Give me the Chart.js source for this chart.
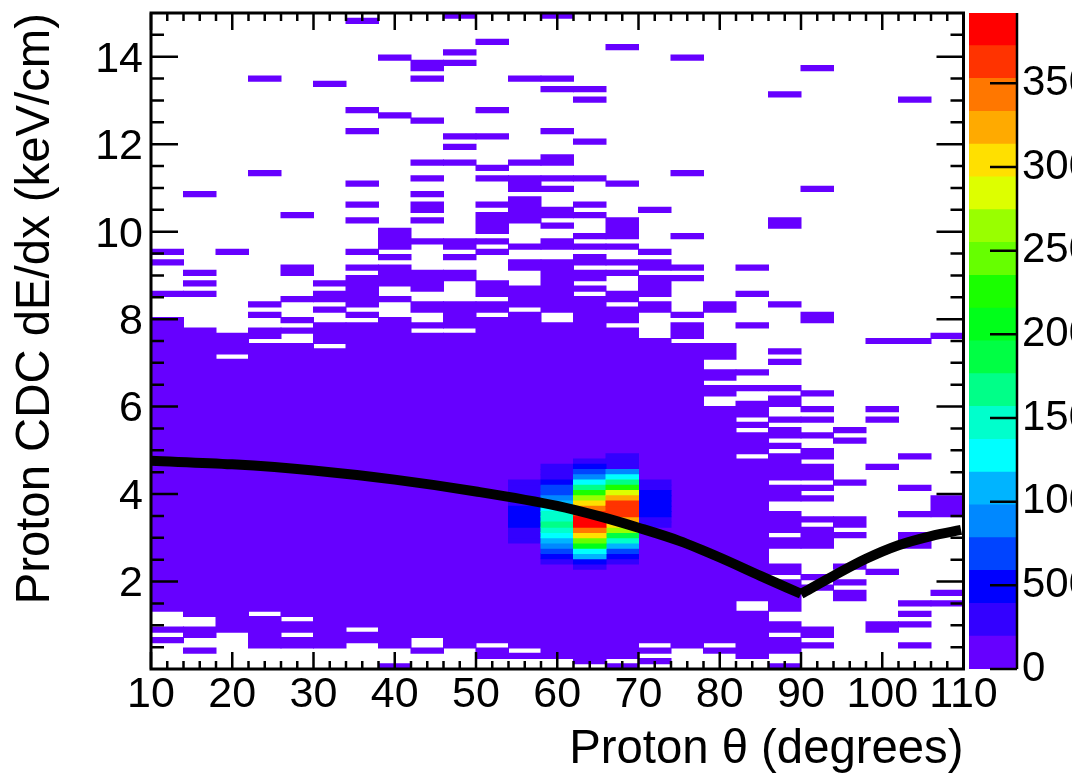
<!DOCTYPE html>
<html>
<head>
<meta charset="utf-8">
<title>Proton CDC dE/dx vs theta</title>
<script src="https://cdn.jsdelivr.net/npm/chart.js@4"></script>
<style>
html, body { margin: 0; padding: 0; background: #fff; overflow: hidden; }
#main { position: absolute; left: 0; top: 0; }
#palette { position: absolute; left: 955px; top: 0; }
</style>
</head>
<body>
<canvas id="main" width="1077" height="773"></canvas>
<canvas id="palette" width="117" height="773"></canvas>
<script>
// histogram binning: 25 theta bins (4 deg), 125 dE/dx bins (0.12 keV/cm)
const thetaBins = [12, 16, 20, 24, 28, 32, 36, 40, 44, 48, 52, 56, 60, 64, 68, 72, 76, 80, 84, 88, 92, 96, 100, 104, 108];
const dedxBinWidth = 0.12;

// occupied dE/dx bins of every theta column, as [first, last] runs
const occupiedBins = [
    [[5, 5], [7, 7], [11, 66], [71, 71], [77, 77], [79, 79]],
    [[3, 3], [6, 7], [10, 64], [71, 71], [73, 73], [75, 75], [90, 90]],
    [[7, 58], [60, 63], [79, 79]],
    [[4, 9], [11, 61], [63, 64], [67, 67], [69, 69], [94, 94], [112, 112]],
    [[4, 5], [7, 8], [10, 61], [64, 64], [66, 66], [70, 70], [75, 76], [86, 86]],
    [[4, 60], [62, 65], [68, 68], [70, 71], [73, 73], [111, 111]],
    [[5, 6], [8, 65], [67, 67], [69, 74], [76, 76], [79, 79], [85, 85], [88, 88], [92, 92], [102, 102], [106, 106], [123, 123]],
    [[0, 0], [4, 66], [70, 70], [73, 76], [78, 78], [80, 83], [105, 105], [116, 116]],
    [[3, 3], [6, 63], [65, 65], [68, 69], [72, 75], [81, 81], [85, 85], [87, 88], [90, 90], [93, 93], [96, 96], [104, 104], [112, 112], [114, 115]],
    [[4, 63], [65, 69], [74, 75], [78, 78], [80, 81], [96, 96], [99, 99], [101, 101], [115, 115], [117, 117], [124, 124]],
    [[2, 3], [5, 66], [68, 69], [71, 73], [79, 79], [81, 81], [83, 86], [88, 88], [93, 93], [95, 95], [101, 101], [106, 106], [119, 119]],
    [[2, 2], [4, 67], [69, 72], [76, 77], [80, 80], [85, 89], [91, 93], [96, 96], [112, 112]],
    [[2, 65], [68, 77], [80, 81], [84, 84], [86, 87], [91, 91], [93, 93], [96, 97], [102, 102], [110, 110], [112, 112], [124, 124]],
    [[1, 70], [72, 72], [74, 75], [77, 78], [80, 80], [82, 82], [86, 86], [88, 88], [93, 93], [100, 100], [108, 108], [110, 110]],
    [[0, 0], [2, 64], [66, 68], [70, 71], [75, 75], [77, 77], [80, 80], [82, 85], [92, 92], [118, 118]],
    [[1, 1], [3, 3], [5, 62], [68, 69], [71, 74], [76, 77], [79, 79], [87, 87]],
    [[4, 61], [63, 65], [67, 67], [74, 74], [76, 76], [82, 82], [94, 94], [116, 116]],
    [[3, 3], [5, 49], [52, 53], [55, 56], [59, 61], [68, 69]],
    [[2, 10], [13, 39], [41, 44], [46, 46], [48, 50], [53, 53], [56, 56], [65, 65], [71, 71], [76, 76]],
    [[0, 0], [3, 5], [7, 8], [11, 16], [18, 19], [23, 24], [26, 29], [32, 34], [36, 40], [42, 42], [44, 45], [47, 47], [50, 51], [53, 53], [58, 58], [60, 60], [69, 69], [84, 85], [109, 109]],
    [[4, 4], [6, 7], [15, 15], [17, 17], [23, 26], [28, 28], [32, 32], [34, 34], [36, 38], [40, 41], [44, 44], [47, 47], [49, 49], [52, 52], [66, 67], [91, 91], [114, 114]],
    [[13, 14], [16, 16], [19, 19], [25, 25], [27, 28], [35, 35], [43, 43], [45, 45]],
    [[7, 8], [18, 18], [38, 38], [47, 47], [49, 49], [62, 62]],
    [[4, 4], [8, 8], [10, 10], [12, 12], [23, 25], [29, 29], [34, 34], [40, 40], [62, 62], [108, 108]],
    [[12, 12], [14, 14], [29, 32], [63, 63]],
];

// counts of the peak region, column index -> first dE/dx bin and counts going up
const peakColumns = [11, 12, 13, 14, 15];
const peakFirstBin = [24, 20, 19, 20, 27];
const peakCounts = [
    [295, 300, 290, 500, 510, 520, 490, 300, 295, 290, 285, 280],
    [295, 490, 690, 885, 1080, 1275, 1475, 1670, 1475, 1475, 1275, 1080, 885, 690, 690, 490, 295, 295, 295],
    [295, 490, 1080, 1275, 2060, 2455, 3045, 3440, 3830, 3830, 3635, 3440, 3045, 2650, 2260, 1670, 1275, 885, 690, 490, 295],
    [295, 490, 690, 1080, 1475, 1865, 2650, 3045, 3240, 3635, 3635, 3635, 3240, 2850, 2260, 1670, 1275, 885, 295, 295, 295],
    [295, 300, 490, 500, 510, 505, 495, 290, 285],
];

// black curve, one branch on each side of the kink at 90 deg
const curveLeftTheta = [10, 20, 30, 40, 50, 60, 65, 70, 75, 80, 85, 90];
const curveLeftDedx = [4.76, 4.68, 4.54, 4.33, 4.06, 3.73, 3.5, 3.23, 2.93, 2.55, 2.13, 1.72];
const curveRightTheta = [90, 94, 98, 102, 106, 109.7];
const curveRightDedx = [1.72, 2.13, 2.52, 2.83, 3.04, 3.18];

// axes
const xMajorTicks = [10, 20, 30, 40, 50, 60, 70, 80, 90, 100, 110];
const xMinorTicks = [12, 14, 16, 18, 22, 24, 26, 28, 32, 34, 36, 38, 42, 44, 46, 48, 52, 54, 56, 58, 62, 64, 66, 68, 72, 74, 76, 78, 82, 84, 86, 88, 92, 94, 96, 98, 102, 104, 106, 108];
const yMajorTicks = [2, 4, 6, 8, 10, 12, 14];
const yMinorTicks = [0.5, 1, 1.5, 2.5, 3, 3.5, 4.5, 5, 5.5, 6.5, 7, 7.5, 8.5, 9, 9.5, 10.5, 11, 11.5, 12.5, 13, 13.5, 14.5];
const paletteTicks = [0, 500, 1000, 1500, 2000, 2500, 3000, 3500];

// palette, bottom to top
const paletteColors = ["#6600ff", "#3300ff", "#0000ff", "#0044ff", "#0088ff", "#00b4ff", "#00ffff", "#00ffcc", "#00ff88", "#00ff44",
    "#00ff1a", "#1aff00", "#66ff00", "#99ff00", "#ddff00", "#ffe000", "#ffaa00", "#ff7700", "#ff3300", "#ff0000"];
const paletteMax = 3920;

const fontFamily = "'Liberation Sans', Arial, sans-serif";
const levelStep = paletteMax / paletteColors.length;

function buildCellDatasets() {
    const cells = paletteColors.map(() => []);
    occupiedBins.forEach((runs, column) => {
        runs.forEach((run) => {
            cells[0].push({ x: thetaBins[column], y: [run[0] * dedxBinWidth, (run[1] + 1) * dedxBinWidth] });
        });
    });
    peakColumns.forEach((column, i) => {
        peakCounts[i].forEach((count, j) => {
            const bin = peakFirstBin[i] + j;
            cells[Math.floor(count / levelStep)].push({ x: thetaBins[column], y: [bin * dedxBinWidth, (bin + 1) * dedxBinWidth] });
        });
    });
    return cells.map((data, level) => ({
        type: "bar",
        data: data,
        order: 100 - level,
        backgroundColor: paletteColors[level],
        borderWidth: 0,
        inflateAmount: 0.5,
        barPercentage: 1,
        categoryPercentage: 1,
        grouped: false,
    }));
}

const frameAndTicks = {
    id: "frameAndTicks",
    afterDatasetsDraw(chart) {
        const { ctx, chartArea: area, scales } = chart;
        ctx.save();
        ctx.strokeStyle = "#000";
        ctx.lineWidth = 2.5;
        ctx.beginPath();
        const xTick = (value, length) => {
            const px = scales.xTheta.getPixelForValue(value);
            ctx.moveTo(px, area.bottom);
            ctx.lineTo(px, area.bottom - length);
            ctx.moveTo(px, area.top);
            ctx.lineTo(px, area.top + length);
        };
        const yTick = (value, length) => {
            const py = scales.y.getPixelForValue(value);
            ctx.moveTo(area.left, py);
            ctx.lineTo(area.left + length, py);
            ctx.moveTo(area.right, py);
            ctx.lineTo(area.right - length, py);
        };
        xMajorTicks.forEach((v) => xTick(v, 17));
        xMinorTicks.forEach((v) => xTick(v, 8));
        yMajorTicks.forEach((v) => yTick(v, 27));
        yMinorTicks.forEach((v) => yTick(v, 13));
        ctx.stroke();
        ctx.lineWidth = 3;
        ctx.strokeRect(area.left, area.top, area.right - area.left, area.bottom - area.top);
        ctx.restore();
    },
};

const paletteAxis = {
    id: "paletteAxis",
    afterDatasetsDraw(chart) {
        const { ctx, chartArea: area, scales } = chart;
        ctx.save();
        ctx.strokeStyle = "#000";
        ctx.lineWidth = 2.5;
        ctx.beginPath();
        ctx.moveTo(area.right, area.top);
        ctx.lineTo(area.right, area.bottom);
        paletteTicks.forEach((v) => {
            const py = scales.y.getPixelForValue(v);
            ctx.moveTo(area.right, py);
            ctx.lineTo(area.right - 27, py);
        });
        ctx.stroke();
        ctx.restore();
    },
};

function curveBranch(thetas, values) {
    return {
        type: "line",
        xAxisID: "xTheta",
        order: 0,
        data: thetas.map((t, i) => ({ x: t, y: values[i] })),
        borderColor: "#000",
        borderWidth: 10,
        pointRadius: 0,
        cubicInterpolationMode: "monotone",
    };
}

function noAxisPadding(scale) {
    scale.paddingTop = 0;
    scale.paddingBottom = 0;
    scale.paddingLeft = 0;
    scale.paddingRight = 0;
}

new Chart(document.getElementById("main"), {
    type: "bar",
    data: {
        labels: thetaBins,
        datasets: [
            curveBranch(curveLeftTheta, curveLeftDedx),
            curveBranch(curveRightTheta, curveRightDedx),
        ].concat(buildCellDatasets()),
    },
    options: {
        responsive: false,
        animation: false,
        events: [],
        layout: { padding: { left: 0, right: 113.5, top: 13, bottom: 0 } },
        plugins: { legend: { display: false }, tooltip: { enabled: false } },
        scales: {
            x: { display: false },
            xTheta: {
                type: "linear",
                position: "bottom",
                offset: false,
                min: 10,
                max: 110,
                afterBuildTicks: (scale) => { scale.ticks = xMajorTicks.map((v) => ({ value: v })); },
                afterFit: (scale) => { scale.height = 104; noAxisPadding(scale); },
                grid: { display: false, drawTicks: false },
                border: { display: false },
                ticks: {
                    color: "#000",
                    font: { family: fontFamily, size: 43 },
                    maxRotation: 0,
                    autoSkip: false,
                    padding: 0,
                },
                title: {
                    display: true,
                    align: "end",
                    text: "Proton θ (degrees)",
                    color: "#000",
                    font: { family: fontFamily, size: 47.3 },
                    padding: { top: 0, bottom: -5 },
                },
            },
            y: {
                min: 0,
                max: 15,
                afterBuildTicks: (scale) => { scale.ticks = yMajorTicks.map((v) => ({ value: v })); },
                afterFit: (scale) => { scale.width = 151; noAxisPadding(scale); },
                grid: { display: false, drawTicks: false },
                border: { display: false },
                ticks: {
                    color: "#000",
                    font: { family: fontFamily, size: 43 },
                    autoSkip: false,
                    padding: 8,
                    labelOffset: 3,
                },
                title: {
                    display: true,
                    align: "end",
                    text: "Proton CDC dE/dx (keV/cm)",
                    color: "#000",
                    font: { family: fontFamily, size: 47.3 },
                    padding: { top: 8, bottom: 0 },
                },
            },
        },
    },
    plugins: [frameAndTicks],
});

new Chart(document.getElementById("palette"), {
    type: "bar",
    data: {
        labels: [""],
        datasets: paletteColors.map((color) => ({
            data: [levelStep],
            backgroundColor: color,
            borderWidth: 0,
            inflateAmount: 0.5,
            barPercentage: 1,
            categoryPercentage: 1,
        })),
    },
    options: {
        responsive: false,
        animation: false,
        events: [],
        layout: { padding: { left: 14, right: 0, top: 13, bottom: 104 } },
        plugins: { legend: { display: false }, tooltip: { enabled: false } },
        scales: {
            x: { display: false, stacked: true },
            y: {
                position: "right",
                stacked: true,
                min: 0,
                max: paletteMax,
                afterBuildTicks: (scale) => { scale.ticks = paletteTicks.map((v) => ({ value: v })); },
                afterFit: (scale) => { scale.width = 55; noAxisPadding(scale); },
                grid: { display: false, drawTicks: false },
                border: { display: false },
                ticks: {
                    color: "#000",
                    font: { family: fontFamily, size: 42 },
                    autoSkip: false,
                    padding: 5,
                    callback: (value) => String(value),
                },
            },
        },
    },
    plugins: [paletteAxis],
});
</script>
</body>
</html>
